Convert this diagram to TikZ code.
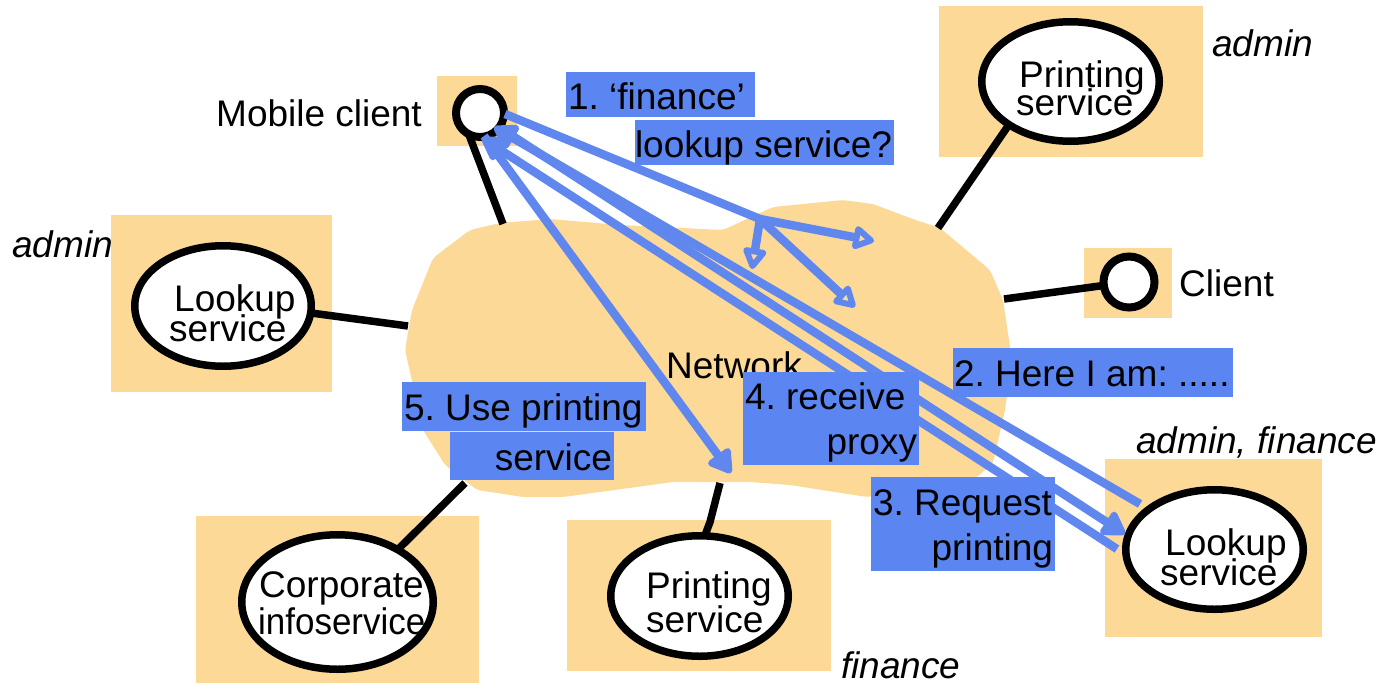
\documentclass[tikz,border=0pt]{standalone}
\usepackage{fontspec}
\setmainfont{Liberation Sans}
\usetikzlibrary{arrows.meta,shapes.geometric}
\definecolor{peach}{HTML}{FDD998}
\definecolor{bluefill}{HTML}{5B85F0}
\definecolor{blueline}{HTML}{5F87EE}
\pgfdeclarelayer{bg}
\pgfsetlayers{bg,main}
\newcommand{\lft}[2]{\makebox[#1pt][l]{#2}}
\newcommand{\rgt}[2]{\makebox[#1pt][r]{#2}}
\newcommand{\tightlines}{\lineskiplimit -100pt\relax}
\tikzset{
  x=1pt,y=-1pt,
  lines/.style={font=\fontsize{37}{#1}\selectfont\frenchspacing\tightlines},
  lines=37,
  pad/.style={fill=peach,draw=none},
  wire/.style={line width=7.5pt,black},
  oval/.style={ellipse,draw=black,fill=white,line width=7.5pt,inner sep=0pt,outer sep=0pt},
  dot/.style={circle,draw=black,fill=white,line width=8pt,inner sep=0pt,outer sep=0pt},
  lab/.style={align=left,inner sep=0pt,anchor=base west},
  note/.style={font=\fontsize{37}{37}\selectfont\itshape,inner sep=0pt},
  plain/.style={inner sep=0pt},
  tag/.style={fill=bluefill,inner sep=0pt,outer sep=0pt,align=left},
  flow/.style={line width=8.5pt,blueline},
  openhead/.style={-{Triangle[open,length=24pt,width=26pt,line width=6pt,round]}},
  solidhead/.style={-{Triangle[length=26pt,width=30pt,round]}},
}
\begin{document}
\begin{tikzpicture}
\useasboundingbox (0,0) rectangle (1383,683);
% services
\node[dot,minimum size=48pt] (mobile) at (480,113) {};
\node[dot,minimum size=51pt] (client) at (1129,282) {};
\node[oval,minimum width=177.5pt,minimum height=119.5pt] (printTop) at (1070.5,81.5) {};
\node[oval,minimum width=176.5pt,minimum height=120.5pt] (lookLeft) at (223,306) {};
\node[oval,minimum width=177.5pt,minimum height=119.5pt] (lookRight) at (1214.5,549.5) {};
\node[oval,minimum width=191.5pt,minimum height=134.5pt] (corp) at (337.5,602) {};
\node[oval,minimum width=177.5pt,minimum height=120.5pt] (printBot) at (699.5,596) {};
% anchors on the cloud
\coordinate (cMobile) at (503,224);
\coordinate (cLeft) at (408,326);
\coordinate (cTop) at (938,228);
\coordinate (cClient) at (1004,299);
\coordinate (cCorp) at (465,483);
\coordinate (cPrint) at (720,483);
\coordinate (cBend) at (710,522);
\begin{pgfonlayer}{bg}
\fill[pad] (437,76) rectangle (517,146);
\fill[pad] (1084,248) rectangle (1172,318);
\fill[pad] (939,6) rectangle (1203,157);
\fill[pad] (111,215) rectangle (332,392);
\fill[pad] (1105,459) rectangle (1322,637);
\fill[pad] (196,516) rectangle (479,683);
\fill[pad] (567,520) rectangle (831,671);
\fill[pad,rounded corners=4pt] (433,258) -- (470,230) -- (500,223) -- (550,219) -- (620,225) -- (723,230) -- (773,207) -- (843,200) -- (873,204) -- (910,218) -- (940,228) -- (990,270) -- (1003,300) -- (1012,360) -- (1005,410) -- (993,463) -- (977,477) -- (930,492) -- (867,497) -- (790,485) -- (750,482) -- (673,482) -- (563,497) -- (523,497) -- (477,490) -- (445,465) -- (423,430) -- (405,350) -- (412,310) -- cycle;
\draw[wire] (mobile.242) -- (cMobile);
\draw[wire] (lookLeft.east) ++(0,7) -- (cLeft);
\draw[wire] (printTop.215) -- (cTop);
\draw[wire] (client) -- (cClient);
\draw[wire] (corp.41) -- (cCorp);
\draw[wire,line join=round] (printBot.85) -- (cBend) -- (cPrint);
\end{pgfonlayer}
% labels
\node[lab,lines=28] (tPrintTop) at (1016,115) {\hspace*{3pt}Printing\\service};
\node[lab,lines=30] (tLookLeft) at (169,341) {\hspace*{5pt}Lookup\\service};
\node[lab,lines=30] (tLookRight) at (1160,585) {\hspace*{5pt}Lookup\\service};
\node[lab,lines=37] (tCorp) at (258,634) {\hspace*{1pt}Corporate\\\scalebox{0.945}[1]{infoservice}};
\node[lab,lines=34] (tPrintBot) at (646,632) {Printing\\service};
\node[plain,anchor=base west] (tMobile) at (216,126) {Mobile client};
\node[plain,anchor=base west] (tClient) at (1179,296) {Client};
\node[note,anchor=base west] (nAdminTop) at (1212,56) {admin};
\node[note,anchor=base west] (nAdminLeft) at (12,257) {admin};
\node[note,anchor=base west] (nBoth) at (1136,453) {admin, finance};
\node[note,anchor=base west] (nFinance) at (841,678) {finance};
\node[plain,anchor=base west] (tNetwork) at (666,378) {Network};
% flows
\coordinate (fork) at (760,219);
\coordinate (s1) at (505,114);
\coordinate (h1) at (752,269);
\coordinate (h2) at (874,241);
\coordinate (h3) at (855,307);
\draw[flow] (s1) -- (fork);
\draw[flow,openhead] (fork) -- (h1);
\draw[flow,openhead] (fork) -- (h2);
\draw[flow,openhead] (fork) -- (h3);
\coordinate (a2) at (1140,504);
\coordinate (b2) at (494,127);
\coordinate (a3) at (1117,549);
\coordinate (b3) at (482,138);
\coordinate (a4) at (505,131);
\coordinate (b4) at (1125,534);
\coordinate (a5) at (484,136);
\coordinate (b5) at (731,473);
\draw[flow,solidhead] (a2) -- (b2);
\draw[flow,solidhead] (a3) -- (b3);
\draw[flow,solidhead] (a4) -- (b4);
\draw[flow,solidhead] (a5) -- (b5);
% tags
\node[tag,text height=37pt,text depth=8pt] (t1) at (660.5,94.5) {\lft{189}{\hspace*{2pt}1. ‘finance’}};
\node[tag,text height=37pt,text depth=8pt] (t1b) at (764.5,142.5) {\lft{259}{lookup service?}};
\node[tag,text height=38pt,text depth=11pt] (t2) at (1093,372.5) {\lft{280}{\hspace*{1pt}2. Here I am: .....}};
\node[tag,lines=45,text height=82pt,text depth=11pt] (t4) at (831,418.5) {\lft{176}{\hspace*{2pt}4. receive}\\\rgt{176}{proxy\hspace*{2pt}}};
\node[tag,lines=45,text height=83pt,text depth=11pt] (t3) at (963,524) {\lft{184}{\hspace*{2pt}3. Request}\\\rgt{184}{printing\hspace*{2pt}}};
\node[tag,text height=38pt,text depth=11pt] (t5) at (524,406.5) {\lft{244}{\hspace*{2pt}5. Use printing}};
\node[tag,text height=38pt,text depth=10pt] (t5b) at (532,456) {\rgt{164}{service\hspace*{2pt}}};
\end{tikzpicture}
\end{document}
